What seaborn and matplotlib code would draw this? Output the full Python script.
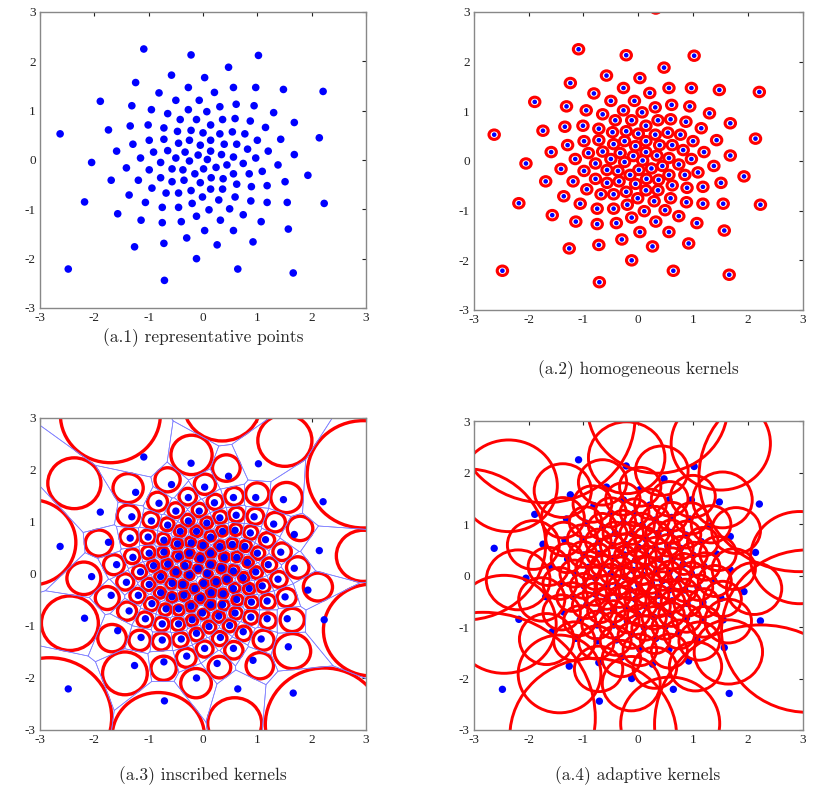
import numpy as np
import pandas as pd
import matplotlib
matplotlib.use('Agg')
import matplotlib.pyplot as plt
import seaborn as sns
from matplotlib.patches import Circle

# representative points (a.1)
pts_x = [-1.09, -0.22, -0.58, 0.03, -1.24, -0.81, -0.27, -1.89, -0.50, -0.07,
         -1.31, -0.95, -0.27, 0.07, -0.65, -0.42, -0.12, -2.63, -1.74, -1.34,
         -1.01, -0.72, -0.47, -0.22, 0.00, 0.14, -1.29, -0.99, -0.72, -0.45,
         -0.25, -0.05, 0.14, -1.59, -0.91, -0.65, -0.33, -0.09, 0.14, -2.05,
         -1.15, -0.50, -0.25, -1.41, -0.78, -0.99, -0.57, -0.37, 0.01,
         1.02, 0.47, 0.56, 0.97, 1.48, 0.21, 2.21, 0.31, 0.61, 0.94,
         1.30, 1.68, 0.36, 0.59, 0.87, 1.15, 0.31, 0.54, 0.77, 1.00,
         1.43, 2.14, 0.39, 0.62, 0.82, 1.20, 1.68, 0.34, 0.56, 0.97, 0.08,
         0.24, 0.44, 0.74, 1.38, 1.09, 1.93, 0.15, 0.37, 0.56, 0.85,
         -0.05, 0.14, 0.36, 0.62, 0.89, 1.18, 1.51, -0.01, 0.29, 0.59,
         0.88, 1.18, 1.55, 2.23, 0.11, 0.49, 0.74, 0.32, 1.07, 0.03,
         0.56, 1.57, 0.26, 0.92, 0.64, 1.66,
         -0.15, -1.19, -0.78, -0.57, -0.35, -0.94, -0.68, -0.45, -0.22, -1.36,
         -1.06, -0.75, -0.45, -0.20, -1.57, -1.14, -0.75, -0.40, -0.12, -0.30,
         -1.26, -0.72, -0.12, -1.69, -2.18, -2.48, -0.71, 0.32]
pts_y = [2.25, 2.13, 1.72, 1.67, 1.57, 1.36, 1.47, 1.19, 1.21, 1.21,
         1.10, 1.02, 1.02, 0.98, 0.94, 0.82, 0.82, 0.53, 0.61, 0.69,
         0.71, 0.65, 0.58, 0.60, 0.55, 0.71, 0.32, 0.40, 0.42, 0.34,
         0.40, 0.30, 0.40, 0.18, 0.16, 0.19, 0.16, 0.10, 0.18, -0.05,
         0.04, 0.04, -0.02, -0.16, -0.05, -0.20, -0.18, -0.20, -0.18,
         2.12, 1.88, 1.47, 1.47, 1.43, 1.37, 1.39, 1.08, 1.13, 1.10,
         0.96, 0.76, 0.82, 0.84, 0.79, 0.66, 0.53, 0.57, 0.53, 0.40,
         0.42, 0.45, 0.32, 0.32, 0.22, 0.18, 0.11, 0.11, 0.06, 0.04, 0.01,
         -0.15, -0.10, -0.07, -0.10, -0.23, -0.31, -0.36, -0.38, -0.28, -0.28,
         -0.46, -0.59, -0.59, -0.49, -0.54, -0.52, -0.44, -0.75, -0.81, -0.75,
         -0.83, -0.86, -0.86, -0.88, -1.01, -0.99, -1.11, -1.22, -1.25, -1.43,
         -1.43, -1.40, -1.72, -1.66, -2.21, -2.29,
         -0.28, -0.41, -0.36, -0.44, -0.41, -0.57, -0.67, -0.67, -0.62, -0.71,
         -0.86, -0.96, -0.96, -0.88, -1.09, -1.22, -1.27, -1.25, -1.14, -1.58,
         -1.76, -1.69, -2.00, -0.41, -0.85, -2.21, -2.44, 3.07]

captions = ['(a.1) representative points', '(a.2) homogeneous kernels',
            '(a.3) inscribed kernels', '(a.4) adaptive kernels']
ticks = [-3, -2, -1, 0, 1, 2, 3]
home_radius = 0.095
adapt_scale = 1.75
box = 4.0

df = pd.DataFrame({'x': pts_x, 'y': pts_y})
P = df[['x', 'y']].to_numpy()


def clip_poly(poly, a, b):
    out = []
    n = len(poly)
    for k in range(n):
        p, q = poly[k], poly[(k + 1) % n]
        fp, fq = a @ p - b, a @ q - b
        if fp <= 0:
            out.append(p)
        if fp * fq < 0:
            t = fp / (fp - fq)
            out.append(p + t * (q - p))
    return np.array(out)


def edge_dist(poly, c):
    n = len(poly)
    d = np.full(c.shape[0], np.inf)
    for k in range(n):
        p, q = poly[k], poly[(k + 1) % n]
        e = q - p
        nrm = np.array([e[1], -e[0]]) / np.hypot(*e)
        dd = -((c - p) @ nrm)
        d = np.minimum(d, dd)
    return d


def inscribed(poly):
    lo, hi = poly.min(axis=0), poly.max(axis=0)
    cen = poly.mean(axis=0)
    span = (hi - lo) / 2
    for _ in range(14):
        gx = np.linspace(cen[0] - span[0], cen[0] + span[0], 21)
        gy = np.linspace(cen[1] - span[1], cen[1] + span[1], 21)
        G = np.array(np.meshgrid(gx, gy)).reshape(2, -1).T
        d = edge_dist(poly, G)
        cen = G[np.argmax(d)]
        span = span * 0.55
    return cen, edge_dist(poly, cen[None, :])[0]


cells = []
square = np.array([[-box, -box], [box, -box], [box, box], [-box, box]])
for i in range(len(P)):
    poly = square.copy()
    for j in range(len(P)):
        if i == j:
            continue
        a = P[j] - P[i]
        b = (P[j] @ P[j] - P[i] @ P[i]) / 2
        poly = clip_poly(poly, a, b)
    area = np.sum(poly[:, 0] * np.roll(poly[:, 1], -1) - np.roll(poly[:, 0], -1) * poly[:, 1])
    if area < 0:
        poly = poly[::-1]
    cells.append(poly)
kernels = [inscribed(poly) for poly in cells]

plt.rcParams['axes.unicode_minus'] = False
sns.set_style('white')
fig = plt.figure(figsize=(8.3, 8), dpi=100)
rects = [[0.0482, 0.615, 0.3928, 0.37], [0.571, 0.6125, 0.396, 0.3725],
         [0.0482, 0.0875, 0.3928, 0.39], [0.571, 0.0875, 0.396, 0.386]]
axes = [fig.add_axes(r) for r in rects]

for ax in axes:
    ax.set_xlim(-3, 3)
    ax.set_ylim(-3, 3)
    ax.set_xticks(ticks)
    ax.set_yticks(ticks)
    ax.tick_params(direction='in', length=3, width=0.8, top=True, right=True,
                   labelsize=9.5, colors='#222222', pad=3)
    for lab in ax.get_xticklabels() + ax.get_yticklabels():
        lab.set_family('Liberation Serif')
    for s in ax.spines.values():
        s.set_color('#888888')
        s.set_linewidth(1.0)

# (a.1)
sns.scatterplot(data=df, x='x', y='y', ax=axes[0], color='#0000ff', s=30,
                edgecolor='none', marker='o')

# (a.2)
for x, y in P:
    axes[1].add_patch(Circle((x, y), home_radius, fc='white', ec='#ff0000', lw=2.2))
sns.scatterplot(data=df, x='x', y='y', ax=axes[1], color='#0000ff', s=11,
                edgecolor='none', zorder=3)

# (a.3)
for poly, (c, r) in zip(cells, kernels):
    closed = np.vstack([poly, poly[:1]])
    axes[2].plot(closed[:, 0], closed[:, 1], color='#7f7fff', lw=0.5)
    axes[2].add_patch(Circle(c, max(r - 0.02, 0.01), fc='white', ec='#ff0000', lw=2.4))
sns.scatterplot(data=df, x='x', y='y', ax=axes[2], color='#0000ff', s=28,
                edgecolor='none', zorder=3)

# (a.4)
sns.scatterplot(data=df, x='x', y='y', ax=axes[3], color='#0000ff', s=28,
                edgecolor='none', zorder=1)
for c, r in kernels:
    axes[3].add_patch(Circle(c, adapt_scale * r, fill=False, ec='#ff0000', lw=2.1, zorder=2))

for ax in axes:
    ax.set_xlabel('')
    ax.set_ylabel('')
    ax.set_xlim(-3, 3)
    ax.set_ylim(-3, 3)

cap_pos = [(203, 338), (638, 370), (203, 776), (638, 776)]
for (cx, cy), txt in zip(cap_pos, captions):
    fig.text(cx / 830, 1 - cy / 800, txt, ha='center', va='center',
             family='cmr10', fontsize=12.5)

fig.savefig('out.png', dpi=100, facecolor='white')
